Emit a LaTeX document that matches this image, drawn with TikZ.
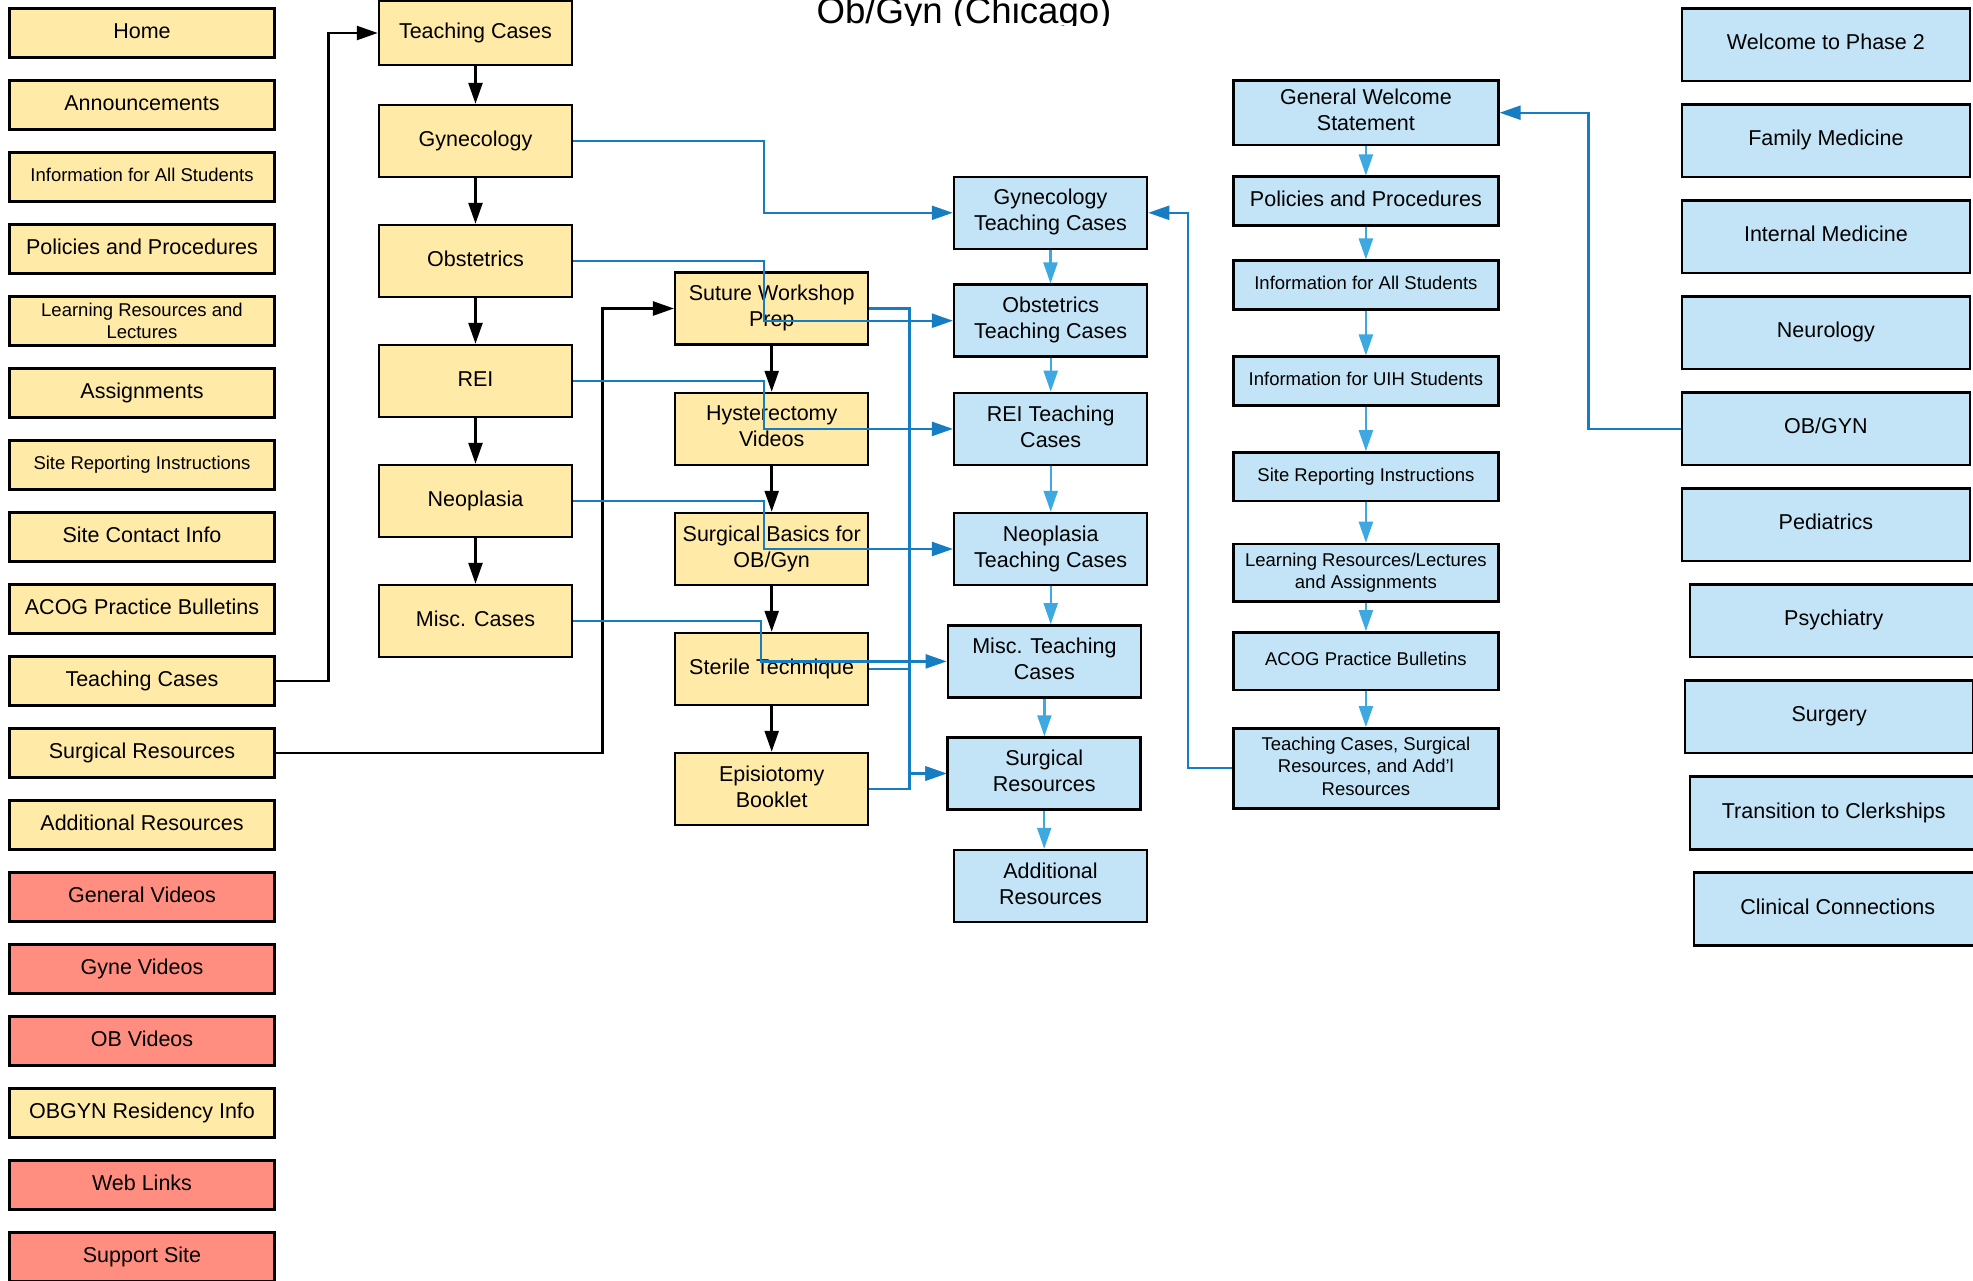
\documentclass[tikz,border=0pt]{standalone}
\usepackage{fontspec}
\setmainfont{Liberation Sans}
\usetikzlibrary{arrows.meta}
\definecolor{yelc}{HTML}{FFEAA7}
\definecolor{redc}{HTML}{FF8E80}
\definecolor{bluec}{HTML}{C2E4F6}
\definecolor{dbc}{HTML}{167DC2}
\definecolor{lbc}{HTML}{3EA8E0}
\tikzset{
  box/.style={draw=black, line width=2.5pt, inner sep=0pt, align=center,
    execute at begin node=\strut},
  lg/.style={font=\fontsize{21.5}{26}\selectfont},
  sm/.style={font=\fontsize{18.5}{22.5}\selectfont},
  ml/.style={text depth=5.3pt},
  sml/.style={text depth=4.25pt},
  yel/.style={box, fill=yelc},
  red/.style={box, fill=redc},
  blu/.style={box, fill=bluec},
  lcol/.style={minimum width=265pt, minimum height=49pt},
  mcol/.style={minimum width=193pt, minimum height=72pt},
  fcol/.style={minimum width=265pt},
  rcol/.style={minimum width=288pt, minimum height=72.7pt},
  tip/.style={-{Triangle[length=21pt,width=14pt]}},
  blk/.style={line width=2.5pt, draw=black, tip},
  dbl/.style={line width=2.2pt, draw=dbc, tip},
  lbl/.style={line width=2.2pt, draw=lbc, tip},
  dbn/.style={line width=2.2pt, draw=dbc},
}
\begin{document}
\begin{tikzpicture}[x=1pt,y=-1pt]
\useasboundingbox (0,0) rectangle (1973,1280);
\fill[white] (0,0) rectangle (1973,1280);
% title (clipped as in the reference)
\begin{scope}
\clip (0,0) rectangle (1973,25.5);
\node[anchor=base, font=\fontsize{36.6}{40}\selectfont, inner sep=0pt] (title) at (964,23.5) {Ob/Gyn (Chicago)};
\end{scope}
% left column
\node[yel,lcol,lg] (L0) at (142,32.8) {Home};
\node[yel,lcol,lg] (L1) at (142,104.8) {Announcements};
\node[yel,lcol,sm] (L2) at (142,176.8) {Information for All Students};
\node[yel,lcol,lg] (L3) at (142,248.8) {Policies and Procedures};
\node[yel,lcol,sm,text depth=-2pt] (L4) at (142,320.8) {Learning Resources and\\Lectures};
\node[yel,lcol,lg] (L5) at (142,392.8) {Assignments};
\node[yel,lcol,sm] (L6) at (142,464.8) {Site Reporting Instructions};
\node[yel,lcol,lg] (L7) at (142,536.8) {Site Contact Info};
\node[yel,lcol,lg] (L8) at (142,608.8) {ACOG Practice Bulletins};
\node[yel,lcol,lg] (L9) at (142,680.8) {Teaching Cases};
\node[yel,lcol,lg] (L10) at (142,752.8) {Surgical Resources};
\node[yel,lcol,lg] (L11) at (142,824.8) {Additional Resources};
\node[red,lcol,lg] (L12) at (142,896.8) {General Videos};
\node[red,lcol,lg] (L13) at (142,968.8) {Gyne Videos};
\node[red,lcol,lg] (L14) at (142,1040.8) {OB Videos};
\node[yel,lcol,lg] (L15) at (142,1112.8) {OBGYN Residency Info};
\node[red,lcol,lg] (L16) at (142,1184.8) {Web Links};
\node[red,lcol,lg] (L17) at (142,1256.8) {Support Site};
% second column
\node[yel,mcol,lg,minimum height=64pt] (TC) at (475.5,33) {Teaching Cases};
\node[yel,mcol,lg] (GY) at (475.5,141) {Gynecology};
\node[yel,mcol,lg] (OB) at (475.5,261) {Obstetrics};
\node[yel,mcol,lg] (RE) at (475.5,381) {REI};
\node[yel,mcol,lg] (NE) at (475.5,501) {Neoplasia};
\node[yel,mcol,lg] (MI) at (475.5,621) {Misc. Cases};
% third column
\node[yel,mcol,lg,ml] (SW) at (771.7,308.5) {Suture Workshop\\Prep};
\node[yel,mcol,lg,ml] (HY) at (771.7,429) {Hysterectomy\\Videos};
\node[yel,mcol,lg,ml] (SB) at (771.7,549) {Surgical Basics for\\OB/Gyn};
\node[yel,mcol,lg] (ST) at (771.7,669) {Sterile Technique};
\node[yel,mcol,lg,ml] (EP) at (771.7,789) {Episiotomy\\Booklet};
% fourth column
\node[blu,mcol,lg,ml] (GTC) at (1050.5,212.8) {Gynecology\\Teaching Cases};
\node[blu,mcol,lg,ml] (OTC) at (1050.7,320.7) {Obstetrics\\Teaching Cases};
\node[blu,mcol,lg,ml] (RTC) at (1050.7,428.9) {REI Teaching\\Cases};
\node[blu,mcol,lg,ml] (NTC) at (1050.7,549) {Neoplasia\\Teaching Cases};
\node[blu,mcol,lg,ml] (MTC) at (1044.4,661.4) {Misc. Teaching\\Cases};
\node[blu,mcol,lg,ml] (SR) at (1044.2,773.5) {Surgical\\Resources};
\node[blu,mcol,lg,ml] (AR) at (1050.5,886) {Additional\\Resources};
% fifth column
\node[blu,fcol,lg,ml,minimum height=64.7pt] (GWS) at (1365.9,112.7) {General Welcome\\Statement};
\node[blu,fcol,lg,minimum height=48.6pt] (PP) at (1365.9,201) {Policies and Procedures};
\node[blu,fcol,sm,minimum height=48.6pt] (IA) at (1365.9,285) {Information for All Students};
\node[blu,fcol,sm,minimum height=48.6pt] (IU) at (1365.9,381) {Information for UIH Students};
\node[blu,fcol,sm,minimum height=48.6pt] (SRI) at (1365.9,476.7) {Site Reporting Instructions};
\node[blu,fcol,sm,sml,minimum height=57.7pt] (LR) at (1365.9,572.8) {Learning Resources/Lectures\\and Assignments};
\node[blu,fcol,sm,minimum height=57.7pt] (AC) at (1365.9,661.2) {ACOG Practice Bulletins};
\node[blu,fcol,sm,sml,minimum height=80pt] (TCS) at (1365.9,768.3) {Teaching Cases, Surgical\\Resources, and Add'l\\Resources};
% right column
\node[blu,rcol,lg] (R0) at (1825.9,44.7) {Welcome to Phase 2};
\node[blu,rcol,lg] (R1) at (1825.9,140.7) {Family Medicine};
\node[blu,rcol,lg] (R2) at (1825.9,236.7) {Internal Medicine};
\node[blu,rcol,lg] (R3) at (1825.9,332.7) {Neurology};
\node[blu,rcol,lg] (R4) at (1825.9,428.7) {OB/GYN};
\node[blu,rcol,lg] (R5) at (1825.9,524.7) {Pediatrics};
\node[blu,rcol,lg] (R6) at (1833.8,620.7) {Psychiatry};
\node[blu,rcol,lg] (R7) at (1829.2,716.7) {Surgery};
\node[blu,rcol,lg] (R8) at (1833.8,813) {Transition to Clerkships};
\node[blu,rcol,lg] (R9) at (1837.8,909) {Clinical Connections};
% black connectors
\draw[blk] (L9.east) -- ++(52.5,0) |- (TC.west);
\draw[blk] (L10.east) -- ++(326.8,0) |- (SW.west);
\draw[blk] (TC.south) -- (GY.north);
\draw[blk] (GY.south) -- (OB.north);
\draw[blk] (OB.south) -- (RE.north);
\draw[blk] (RE.south) -- (NE.north);
\draw[blk] (NE.south) -- (MI.north);
\draw[blk] (SW.south) -- (HY.north);
\draw[blk] (HY.south) -- (SB.north);
\draw[blk] (SB.south) -- (ST.north);
\draw[blk] (ST.south) -- (EP.north);
% dark blue connectors
\draw[dbl] (GY.east) -- ++(190.6,0) |- (GTC.west);
\draw[dbl] (OB.east) -- ++(191,0) |- (OTC.west);
\draw[dbl] (RE.east) -- ++(191,0) |- (RTC.west);
\draw[dbl] (NE.east) -- ++(191,0) |- (NTC.west);
\draw[dbl] (MI.east) -- ++(188,0) |- (MTC.west);
\draw[dbl] (SW.east) -- ++(40,0) |- (SR.west);
\draw[dbn] (ST.east) -- ++(40,0);
\draw[dbl] (EP.east) -- ++(40,0) |- (SR.west);
\draw[dbl] (R4.west) -- ++(-92.2,0) |- (GWS.east);
\draw[dbl] (TCS.west) -- ++(-44.3,0) |- (GTC.east);
% light blue chains
\draw[lbl] (GTC.south) -- (GTC.south |- OTC.north);
\draw[lbl] (OTC.south) -- (RTC.north);
\draw[lbl] (RTC.south) -- (NTC.north);
\draw[lbl] (NTC.south) -- (NTC.south |- MTC.north);
\draw[lbl] (MTC.south) -- (MTC.south |- SR.north);
\draw[lbl] (SR.south) -- (SR.south |- AR.north);
\draw[lbl] (GWS.south) -- (PP.north);
\draw[lbl] (PP.south) -- (IA.north);
\draw[lbl] (IA.south) -- (IU.north);
\draw[lbl] (IU.south) -- (SRI.north);
\draw[lbl] (SRI.south) -- (LR.north);
\draw[lbl] (LR.south) -- (AC.north);
\draw[lbl] (AC.south) -- (TCS.north);
\end{tikzpicture}
\end{document}
